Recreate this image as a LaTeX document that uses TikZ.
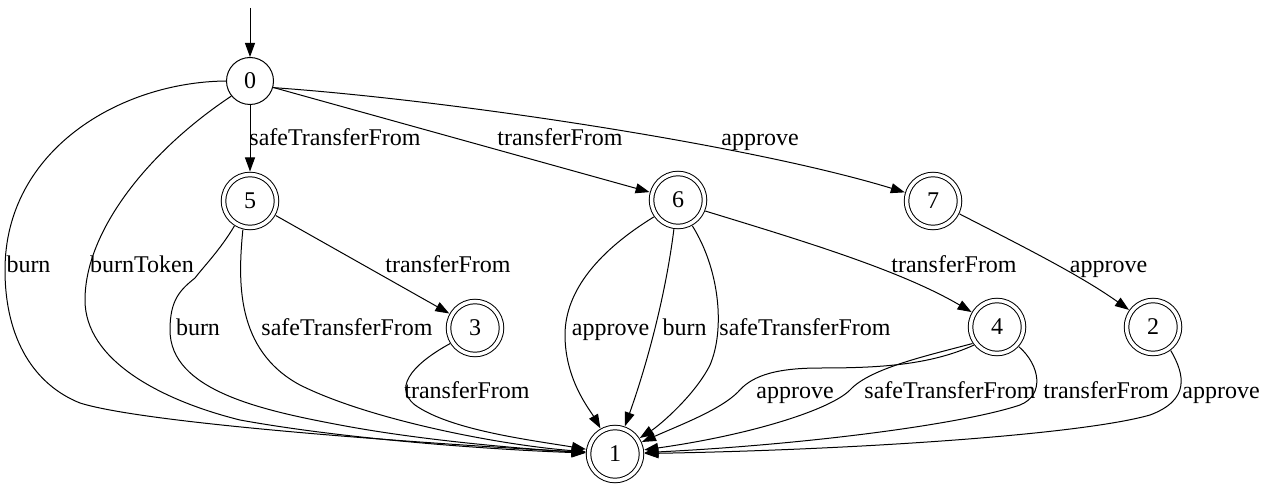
\documentclass[tikz,border=0pt]{standalone}
\usepackage{fontspec}
\setmainfont{Liberation Serif}
\usetikzlibrary{arrows.meta}
\begin{document}
\begin{tikzpicture}[x=1pt,y=-1pt,
  every node/.style={font=\fontsize{24}{28}\selectfont},
  st/.style={circle,draw,line width=1pt,minimum size=47pt,inner sep=0pt},
  acc/.style={circle,draw,line width=1pt,double,double distance=3.5pt,minimum size=53pt,inner sep=0pt,outer sep=3pt},
  lbl/.style={anchor=base,inner sep=0pt},
  arr/.style={line width=1pt,-{Triangle[length=14pt,width=10pt]}},
]
\useasboundingbox (0,0) rectangle (1265,489);

% states
\node[st]  (n0) at (250,81)  {0};
\node[acc] (n5) at (250,201) {5};
\node[acc] (n6) at (678,200) {6};
\node[acc] (n7) at (933,201) {7};
\node[acc] (n3) at (475,328) {3};
\node[acc] (n4) at (997,327) {4};
\node[acc] (n2) at (1153,327) {2};
\node[acc] (n1) at (615,454) {1};
\coordinate (start) at (250,8);

% edges
\draw[arr] (start) -- (n0);
\draw[arr] (n0.180) .. controls (120,82) and (5,150) .. (5,270)
  .. controls (5,340) and (35,385) .. (80,403)
  .. controls (150,425) and (450,445) .. (n1);
\draw[arr] (n0.219) .. controls (150,150) and (85,230) .. (85,300)
  .. controls (85,360) and (160,400) .. (240,420)
  .. controls (350,440) and (500,450) .. (n1);
\draw[arr] (n0) -- (n5);
\draw[arr] (n0) -- (n6);
\draw[arr] (n0.344) .. controls (450,100) and (750,145) .. (n7);
\draw[arr] (n5) -- (n3);
\draw[arr] (n5.238) .. controls (220,250) and (205,265) .. (195,278)
  .. controls (180,290) and (170,300) .. (170,330)
  .. controls (170,390) and (260,410) .. (340,425)
  .. controls (430,442) and (540,450) .. (n1);
\draw[arr] (n5.256) .. controls (238,280) and (235,350) .. (300,385)
  .. controls (370,420) and (500,445) .. (n1);
\draw[arr] (n3.212) .. controls (420,360) and (390,385) .. (415,405)
  .. controls (450,430) and (530,440) .. (n1);
\draw[arr] (n6.215) .. controls (600,250) and (565,290) .. (565,335)
  .. controls (565,380) and (590,410) .. (n1);
\draw[arr] (n6.262) .. controls (665,300) and (645,370) .. (n1);
\draw[arr] (n6.299) .. controls (720,270) and (725,330) .. (710,365)
  .. controls (695,395) and (660,425) .. (n1);
\draw[arr] (n6.338) .. controls (800,240) and (900,270) .. (n4);
\draw[arr] (n7.334) .. controls (1020,245) and (1080,275) .. (n2);
\draw[arr] (n4.218) .. controls (930,365) and (880,368) .. (820,368)
  .. controls (770,368) and (750,378) .. (738,392)
  .. controls (720,410) and (680,425) .. (n1);
\draw[arr] (n4.214) .. controls (930,355) and (870,368) .. (850,390)
  .. controls (830,410) and (750,435) .. (n1);
\draw[arr] (n4.318) .. controls (1040,365) and (1045,395) .. (1020,405)
  .. controls (960,425) and (800,445) .. (n1);
\draw[arr] (n2.307) .. controls (1185,375) and (1190,400) .. (1150,415)
  .. controls (1080,435) and (850,450) .. (n1);

% labels
\node[lbl] (l1)  at (28.5,272) {burn};
\node[lbl] (l2)  at (142,272)  {burnToken};
\node[lbl] (l3)  at (335,146)  {safeTransferFrom};
\node[lbl] (l4)  at (560,146)  {transferFrom};
\node[lbl] (l5)  at (760,146)  {approve};
\node[lbl] (l6)  at (448,272)  {transferFrom};
\node[lbl] (l7)  at (198,335)  {burn};
\node[lbl] (l8)  at (347,335)  {safeTransferFrom};
\node[lbl] (l9)  at (467,398)  {transferFrom};
\node[lbl] (l10) at (610.5,335) {approve};
\node[lbl] (l11) at (684.5,335) {burn};
\node[lbl] (l12) at (805,335)  {safeTransferFrom};
\node[lbl] (l13) at (954,272)  {transferFrom};
\node[lbl] (l14) at (1108.5,272) {approve};
\node[lbl] (l15) at (795,398)  {approve};
\node[lbl] (l16) at (950,398)  {safeTransferFrom};
\node[lbl] (l17) at (1106,398) {transferFrom};
\node[lbl] (l18) at (1221,398) {approve};
\end{tikzpicture}
\end{document}
